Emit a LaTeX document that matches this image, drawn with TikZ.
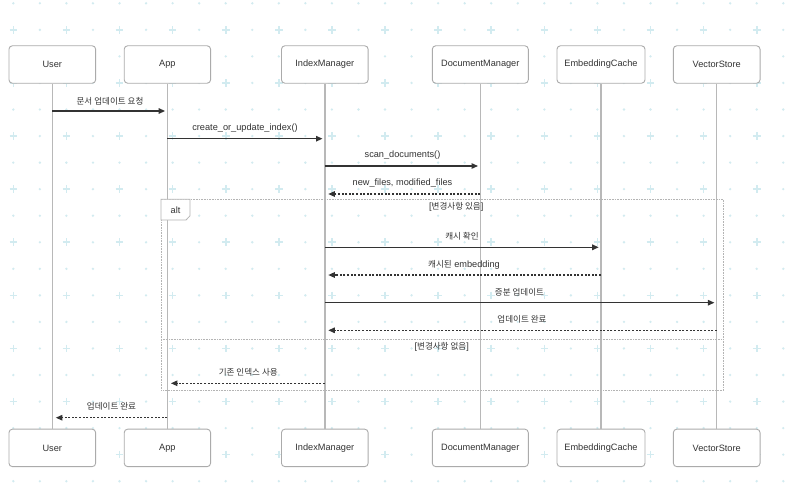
\documentclass[tikz,border=0pt]{standalone}
\usepackage{fontspec}
\setmainfont{Liberation Sans}
\newfontfamily\kr[Scale=0.93]{Noto Sans CJK KR}
\usetikzlibrary{arrows.meta}
\definecolor{gridc}{HTML}{D2EBF0}
\definecolor{boxc}{HTML}{ABABAB}
\definecolor{lifec}{HTML}{B8B8B8}
\definecolor{txtc}{HTML}{333333}
\definecolor{msgc}{HTML}{333333}
\definecolor{altc}{HTML}{B4B4B4}
\tikzset{
  actor/.style={draw=boxc, line width=0.9pt, fill=white, rounded corners=3.5pt,
    minimum height=37.5pt, inner sep=0pt, text=txtc, font=\fontsize{9.2}{11}\selectfont},
  life/.style={draw=lifec, line width=1.4pt},
  msgsolid/.style={draw=msgc, line width=1.3pt, -{Triangle[length=6.5pt,width=5.5pt]}, shorten >=2.3pt},
  msgdash/.style={draw=msgc, line width=1.2pt, dash pattern=on 2pt off 1.6pt, -{Triangle[length=6.5pt,width=5.5pt]}, shorten >=3.5pt},
  lbl/.style={text=txtc, font=\fontsize{9.2}{11}\selectfont, inner sep=0pt},
  altframe/.style={draw=altc, line width=0.8pt, dash pattern=on 1pt off 0.6pt, inner sep=0pt},
}
\begin{document}
\begin{tikzpicture}[x=1pt,y=-1pt]
\useasboundingbox (0,0) rectangle (792,503);
\fill[white] (0,0) rectangle (792,503);
% background grid
\foreach \i in {0,...,29}{
  \foreach \j in {0,...,18}{
    \pgfmathsetmacro{\gx}{13.3+26.55*\i}
    \pgfmathsetmacro{\gy}{3.3+26.55*\j}
    \ifodd\i\relax
      \fill[gridc] (\gx,\gy) circle (1.3pt);
    \else
      \ifodd\j\relax
        \draw[gridc, line width=1.6pt] (\gx-3.8,\gy) -- (\gx+3.8,\gy) (\gx,\gy-3.8) -- (\gx,\gy+3.8);
      \else
        \fill[gridc] (\gx,\gy) circle (1.3pt);
      \fi
    \fi
  }
}
% actors top
\node[actor, minimum width=86.7pt] (uT) at (52.3,64.5) {User};
\node[actor, minimum width=86.4pt] (aT) at (167.4,64.5) {App};
\node[actor, minimum width=86.7pt] (iT) at (324.8,64.5) {IndexManager};
\node[actor, minimum width=96pt] (dT) at (480.3,64.5) {DocumentManager};
\node[actor, minimum width=88pt] (eT) at (601,64.5) {EmbeddingCache};
\node[actor, minimum width=86.7pt] (vT) at (716.7,64.5) {VectorStore};
% actors bottom
\node[actor, minimum width=86.7pt] (uB) at (52.3,447.9) {User};
\node[actor, minimum width=86.4pt] (aB) at (167.4,447.9) {App};
\node[actor, minimum width=86.7pt] (iB) at (324.8,447.9) {IndexManager};
\node[actor, minimum width=96pt] (dB) at (480.3,447.9) {DocumentManager};
\node[actor, minimum width=88pt] (eB) at (601,447.9) {EmbeddingCache};
\node[actor, minimum width=86.7pt] (vB) at (716.7,447.9) {VectorStore};
% lifelines
\foreach \a in {u,a,i,d,e,v}{
  \draw[life] (\a T.south) -- (\a B.north);
}
% alt frame
\node[altframe, minimum width=562.3pt, minimum height=190.7pt, anchor=north west] (alt) at (161,199.3) {};
\coordinate (sep) at (0,339.3);
\draw[altframe] (alt.west |- sep) -- (alt.east |- sep);
\filldraw[fill=white, draw=altc, line width=0.8pt] (alt.north west) -- ++(29,0) -- ++(0,16.5) -- ++(-4,4.2) -- ++(-25,0) -- cycle;
\node[lbl] (altlbl) at (175.5,210.3) {alt};
\node[lbl] (g1) at (456.3,206.7) {[{\kr 변경사항 있음}]};
\node[lbl] (g2) at (441.7,346.7) {[{\kr 변경사항 없음}]};
% message rows
\coordinate (y1) at (0,111);
\coordinate (y2) at (0,138.7);
\coordinate (y3) at (0,166);
\coordinate (y4) at (0,194);
\coordinate (y5) at (0,247.3);
\coordinate (y6) at (0,275);
\coordinate (y7) at (0,302.7);
\coordinate (y8) at (0,330.3);
\coordinate (y9) at (0,383.3);
\coordinate (y10) at (0,417.7);
% messages
\draw[msgsolid] (uT.south |- y1) -- (aT.south |- y1);
\node[lbl] (l1) at (110,101) {\kr 문서 업데이트 요청};
\draw[msgsolid] (aT.south |- y2) -- (iT.south |- y2);
\node[lbl] (l2) at (245,128) {create\_or\_update\_index()};
\draw[msgsolid] (iT.south |- y3) -- (dT.south |- y3);
\node[lbl] (l3) at (402.5,155.5) {scan\_documents()};
\draw[msgdash] (dT.south |- y4) -- (iT.south |- y4);
\node[lbl] (l4) at (402.5,183.5) {new\_files, modified\_files};
\draw[msgsolid] (iT.south |- y5) -- (eT.south |- y5);
\node[lbl] (l5) at (462,236.3) {\kr 캐시 확인};
\draw[msgdash] (eT.south |- y6) -- (iT.south |- y6);
\node[lbl] (l6) at (464,264.5) {{\kr 캐시된} embedding};
\draw[msgsolid] (iT.south |- y7) -- (vT.south |- y7);
\node[lbl] (l7) at (519.5,292.5) {\kr 증분 업데이트};
\draw[msgdash] (vT.south |- y8) -- (iT.south |- y8);
\node[lbl] (l8) at (522,319.5) {\kr 업데이트 완료};
\draw[msgdash] (iT.south |- y9) -- (aT.south |- y9);
\node[lbl] (l9) at (248.3,372.7) {\kr 기존 인덱스 사용};
\draw[msgdash] (aT.south |- y10) -- (uT.south |- y10);
\node[lbl] (l10) at (111.5,406.7) {\kr 업데이트 완료};
\end{tikzpicture}
\end{document}
